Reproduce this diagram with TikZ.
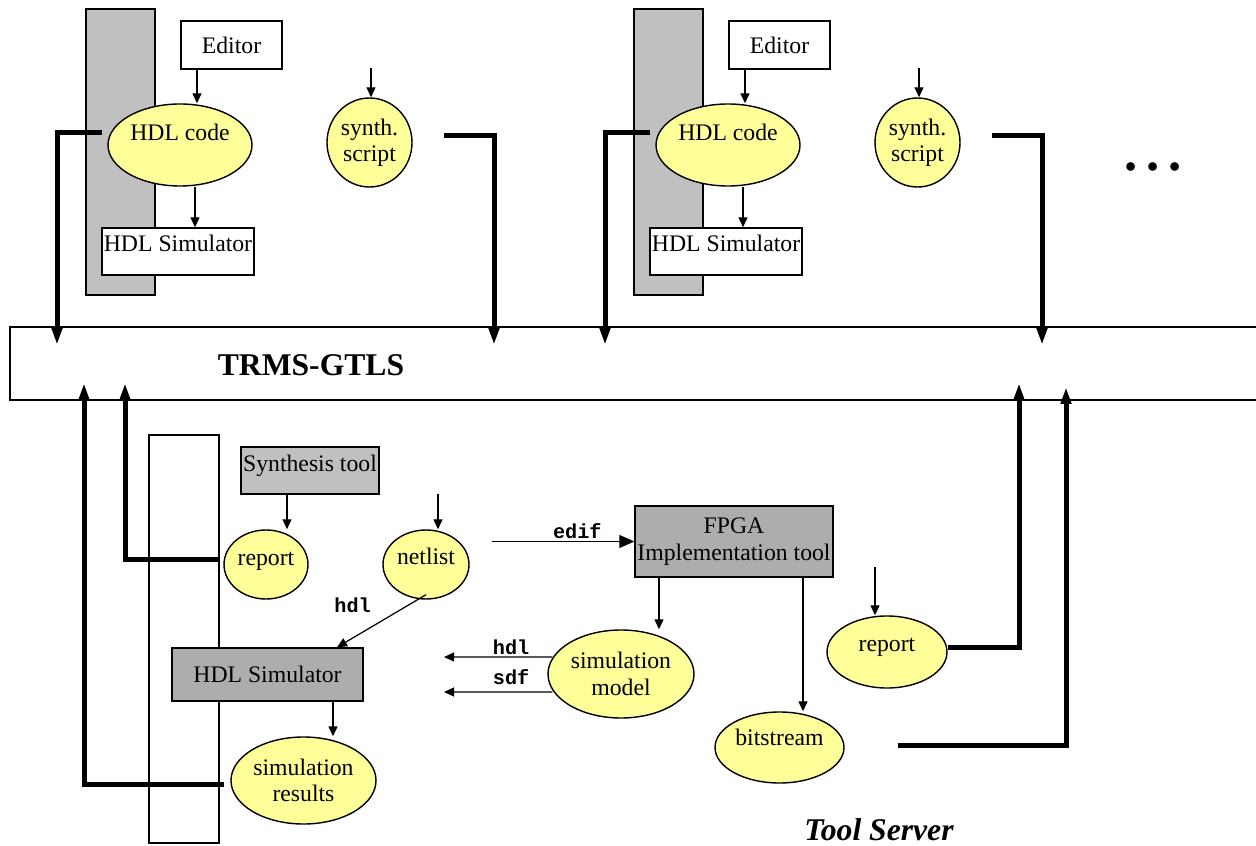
\documentclass[tikz,border=0pt]{standalone}
\usepackage{fontspec}
\setmainfont{Liberation Serif}
\setmonofont{Liberation Mono}
\usetikzlibrary{arrows.meta,positioning,shapes.geometric}

\definecolor{note}{HTML}{FFFF99}
\definecolor{bargray}{HTML}{C0C0C0}
\definecolor{toolgray}{HTML}{ADADAD}

\begin{document}
\begin{tikzpicture}[
    x=0.2mm, y=-0.2mm,
    every node/.style={font=\fontsize{13.5}{15}\selectfont},
    file/.style={ellipse,draw,fill=note,line width=0.8pt,inner sep=0pt,align=center},
    box/.style={rectangle,draw,fill=white,line width=0.8pt,inner sep=0pt,align=center},
    tool/.style={box,fill=toolgray},
    bar/.style={draw,fill=bargray,line width=0.8pt},
    flow/.style={-{Triangle[length=2mm,width=1.8mm]},line width=0.7pt},
    bigflow/.style={-{Triangle[length=3mm,width=2.6mm]},line width=0.7pt},
    link/.style={-{Triangle[length=3.4mm,width=2mm]},line width=1mm},
    fmt/.style={font=\ttfamily\bfseries\fontsize{11.5}{12}\selectfont,inner sep=1pt},
    lift/.style={text height=9.3pt,text depth=#1},
    ]
\useasboundingbox (0,0) rectangle (1256,846);

    %% Client side, two work places
    \foreach \g/\dx in {A/0,B/548}{
        \begin{scope}[xshift=\dx*0.2mm]
            \draw[bar] (86,9) rectangle (155,295);
            \node[box,minimum width=20.2mm,minimum height=9.6mm] (edit\g) at (231.5,45) {Editor};
            \node[file,lift=14.7pt,minimum width=28.8mm,minimum height=16.4mm] (code\g) at (180,145) {HDL code};
            \node[box,lift=9.6pt,minimum width=30.4mm,minimum height=9.4mm] (sim\g) at (178,251.5) {HDL Simulator};
            \node[file,minimum width=17mm,minimum height=17.8mm] (script\g) at (369.5,142.5) {synth.\\script};
            \coordinate (scriptin\g) at (371,68);
            \coordinate (codeout\g) at (57,345);
            \coordinate (scriptout\g) at (494,345);
        \end{scope}
        \draw[flow] ([xshift=-6.9mm]edit\g.south) -- ([xshift=-6.9mm]edit\g.south |- code\g.north);
        \draw[flow] ([xshift=3mm]code\g.south) -- ([xshift=3mm]code\g.south |- sim\g.north);
        \draw[flow] (scriptin\g) -- (scriptin\g |- script\g.north);
        % upload to the server
        \draw[link] ([xshift=-1mm,yshift=2.4mm]code\g.west) -| (codeout\g);
        \draw[link] ([xshift=6.2mm,yshift=1.3mm]script\g.east) -| (scriptout\g);
    }
    \node[font=\bfseries\fontsize{30}{30}\selectfont,anchor=base] (more) at (1153,171) {.\,.\,.};

    %% The bus
    \draw[line width=0.8pt] (1262,327) -| (10,400) -- (1262,400);
    \node[font=\bfseries\fontsize{18}{20}\selectfont] (bus) at (311,365) {TRMS-GTLS};

    %% Tool server
    \draw[line width=0.8pt] (149,435) rectangle (219,843);
    \node[tool,fill=bargray,lift=8.5pt,minimum width=27.6mm,minimum height=9.4mm] (synth) at (310,470.5) {Synthesis tool};
    \node[file,lift=8.5pt,minimum width=16.8mm,minimum height=13.8mm] (rep) at (266,564.5) {report};
    \node[file,lift=9.6pt,minimum width=17.2mm,minimum height=13.8mm] (net) at (426,564.5) {netlist};
    \node[tool,minimum width=38.2mm,minimum height=10.6mm] (hsim) at (267.5,674.5) {HDL Simulator};
    \node[file,minimum width=29mm,minimum height=17.4mm] (res) at (303.5,780.5) {simulation\\results};
    \node[tool,minimum width=39.6mm,minimum height=14.2mm] (fpga) at (734,541.5) {FPGA\\Implementation tool};
    \node[file,minimum width=29.2mm,minimum height=17.6mm] (model) at (621,674) {simulation\\model};
    \node[file,lift=10.2pt,minimum width=24mm,minimum height=14.4mm] (rep2) at (887,652) {report};
    \node[file,lift=11.9pt,minimum width=25.8mm,minimum height=14.2mm] (bit) at (779.5,747.5) {bitstream};
    \node[font=\bfseries\itshape\fontsize{18}{20}\selectfont] (server) at (879,830) {Tool Server};

    \coordinate (netin) at (438,494);
    \coordinate (rep2in) at (875,567);
    \coordinate (hdlto) at (444,657);
    \coordinate (sdfto) at (444,692);
    \coordinate (repout) at (125,383);
    \coordinate (resout) at (84,383);
    \coordinate (rep2out) at (1019,383);
    \coordinate (bitout) at (1066,387);

    % Tool flow
    \draw[flow] ([xshift=-4.6mm]synth.south) -- ([xshift=-4.6mm]synth.south |- rep.north);
    \draw[flow] (netin) -- (netin |- net.north);
    \draw[flow] ([yshift=1mm]net.south) -- ([xshift=13.9mm]hsim.north)
        node[fmt,pos=0.2,left=7mm] {hdl};
    \draw[bigflow] ([xshift=4.4mm]fpga.west -| net.east) -- (fpga.west)
        node[fmt,pos=0.6,above] {edif};
    \draw[flow] ([xshift=-15mm]fpga.south) -- ([xshift=-15mm]fpga.south |- model.north);
    \draw[flow] ([xshift=13.8mm]fpga.south) -- ([xshift=13.8mm]fpga.south |- bit.north);
    \draw[flow] ([xshift=1mm,yshift=3.4mm]model.west) -- (hdlto)
        node[fmt,pos=0.38,above] {hdl};
    \draw[flow] ([xshift=1mm,yshift=-3.6mm]model.west) -- (sdfto)
        node[fmt,pos=0.38,above=3pt] {sdf};
    \draw[flow] ([xshift=13.1mm]hsim.south) -- ([xshift=13.1mm]hsim.south |- res.north);
    \draw[flow] (rep2in) -- (rep2in |- rep2.north);

    % Results back to the bus
    \draw[link] ([xshift=-1mm,yshift=1.1mm]rep.west) -| (repout);
    \draw[link] ([xshift=-1.2mm,yshift=-0.7mm]res.west) -| (resout);
    \draw[link] ([yshift=1mm]rep2.east) -| (rep2out);
    \draw[link] ([xshift=10.6mm,yshift=0.5mm]bit.east) -| (bitout);
\end{tikzpicture}
\end{document}
